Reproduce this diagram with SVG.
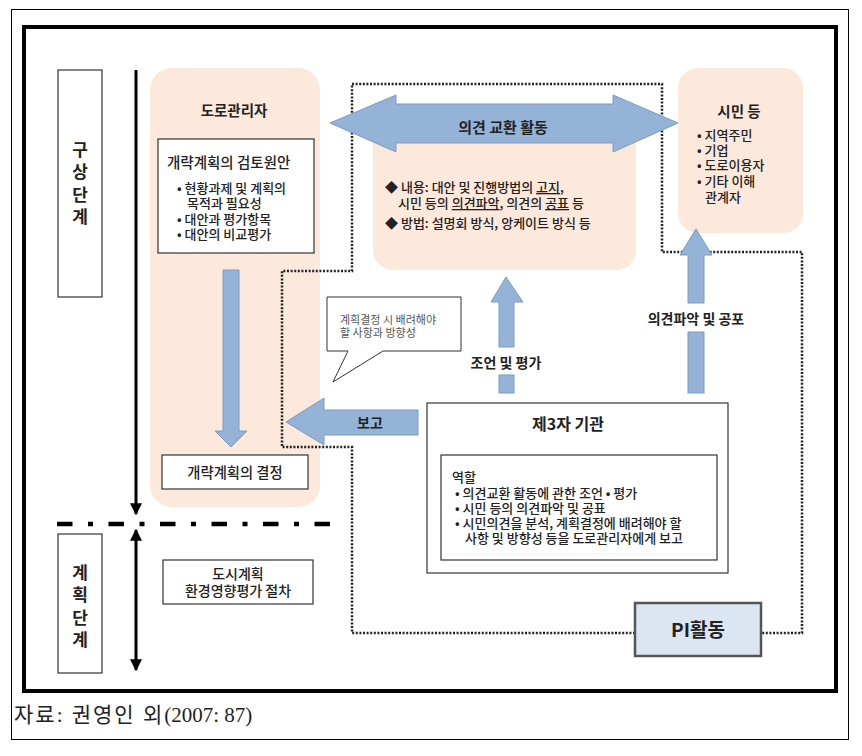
<svg xmlns="http://www.w3.org/2000/svg" width="862" height="756" viewBox="0 0 862 756">
<defs>
<style>
text{font-family:"Noto Sans CJK KR","Noto Sans",sans-serif;fill:#222;}
.t{font-size:14.5px;font-weight:bold;}
.s{font-size:13px;font-weight:500;}
.b{font-size:14px;font-weight:bold;}
.st{font-size:17px;font-weight:bold;writing-mode:vertical-rl;text-orientation:upright;letter-spacing:5.5px;}
.peach{fill:#fde9dc;stroke:none;}
.box{fill:#fff;stroke:#333;stroke-width:1.2;}
.arrow{fill:#95b3d7;stroke:#7a9cc8;stroke-width:1;}
.dot{fill:none;stroke:#222;stroke-width:2.5;stroke-dasharray:2 1.6;}
.tl{stroke:#000;stroke-width:3;fill:none;}
</style>
<marker id="ah" viewBox="0 0 10 10" refX="9" refY="5" markerWidth="4" markerHeight="4" orient="auto-start-reverse">
<path d="M0,0 L10,5 L0,10 z" fill="#000"/>
</marker>
</defs>
<rect x="0" y="0" width="862" height="756" fill="#fff"/>
<rect x="11.5" y="9.5" width="837" height="730" fill="none" stroke="#000" stroke-width="1"/>
<rect x="24" y="27" width="812" height="664" fill="none" stroke="#000" stroke-width="4"/>

<g id="stage-concept">
<rect x="58" y="70" width="44" height="227" fill="#fff" stroke="#333" stroke-width="1.2"/>
<text class="st" x="80" y="141">구상단계</text>
</g>
<g id="stage-plan">
<rect x="58" y="534" width="44" height="139" fill="#fff" stroke="#333" stroke-width="1.2"/>
<text class="st" x="80" y="564">계획단계</text>
</g>

<g id="timeline">
<line class="tl" x1="136" y1="70" x2="136" y2="514" marker-end="url(#ah)"/>
<line class="tl" x1="136" y1="530" x2="136" y2="670" marker-start="url(#ah)" marker-end="url(#ah)"/>
<line x1="57" y1="524" x2="330" y2="524" stroke="#000" stroke-width="4.5" stroke-dasharray="15.5 15.5 5 15.5"/>
</g>

<g id="road-manager">
<rect class="peach" x="150" y="68" width="170" height="439" rx="22"/>
<text class="t" x="234" y="116" text-anchor="middle">도로관리자</text>
</g>
<g id="draft-review">
<rect class="box" x="158" y="139" width="156" height="114"/>
<text x="167" y="168" style="font-size:14.5px;font-weight:500">개략계획의 검토원안</text>
<text class="s"><tspan x="177" y="193">• 현황과제 및 계획의</tspan><tspan x="187" dy="15">목적과 필요성</tspan><tspan x="177" dy="16">• 대안과 평가항목</tspan><tspan x="177" dy="15">• 대안의 비교평가</tspan></text>
</g>
<g id="plan-decision">
<rect class="box" x="162" y="455" width="146" height="34"/>
<text x="235" y="478" text-anchor="middle" style="font-size:14.3px;font-weight:500">개략계획의 결정</text>
</g>
<g id="urban-plan">
<rect class="box" x="163" y="560" width="150" height="44"/>
<text style="font-size:14px;font-weight:500" text-anchor="middle"><tspan x="238" y="579">도시계획</tspan><tspan x="238" dy="17">환경영향평가 절차</tspan></text>
</g>

<g id="exchange">
<rect class="peach" x="373" y="112" width="263" height="158" rx="20"/>
<text class="s"><tspan x="385" y="192">◆ 내용: 대안 및 진행방법의 </tspan><tspan text-decoration="underline">고지</tspan><tspan>,</tspan><tspan x="398" dy="16">시민 등의 </tspan><tspan text-decoration="underline">의견파악</tspan><tspan>, 의견의 </tspan><tspan text-decoration="underline">공표</tspan><tspan> 등</tspan><tspan x="385" dy="20">◆ 방법: 설명회 방식, 앙케이트 방식 등</tspan></text>
</g>

<g id="citizens">
<rect class="peach" x="678" y="68" width="125" height="165" rx="20"/>
<text class="t" x="739" y="117" text-anchor="middle">시민 등</text>
<text class="s"><tspan x="697" y="140">• 지역주민</tspan><tspan x="697" dy="15">• 기업</tspan><tspan x="697" dy="15">• 도로이용자</tspan><tspan x="697" dy="16">• 기타 이해</tspan><tspan x="705" dy="16">관계자</tspan></text>
</g>

<g id="third-party">
<rect class="box" x="427" y="403" width="301" height="170"/>
<text x="568" y="430" text-anchor="middle" style="font-size:16px;font-weight:bold">제3자 기관</text>
<rect class="box" x="441" y="455" width="276" height="105"/>
<text class="s"><tspan x="452" y="482">역할</tspan><tspan x="455" dy="16">• 의견교환 활동에 관한 조언 • 평가</tspan><tspan x="455" dy="15">• 시민 등의 의견파악 및 공표</tspan><tspan x="455" dy="15">• 시민의견을 분석, 계획결정에 배려해야 할</tspan><tspan x="465" dy="15">사항 및 방향성 등을 도로관리자에게 보고</tspan></text>
</g>

<g id="callout">
<path d="M327,297 H461 V351 H383 L333,382 L348,351 H327 Z" fill="#fff" stroke="#333" stroke-width="1"/>
<text style="font-size:11px;fill:#555"><tspan x="340" y="324">계획결정 시 배려해야</tspan><tspan x="340" dy="13">할 사항과 방향성</tspan></text>
</g>

<g id="connectors">
<path class="dot" d="M352,84 H662 V252 H802 V633 H761 M635,633 H352 V447 H282 V271 H352 V84"/>
<polygon class="arrow" points="330,123 396,95 396,104 613,104 613,95 678,123 613,152 613,143 396,143 396,152"/>
<text x="503" y="133" text-anchor="middle" style="font-size:15px;font-weight:bold">의견 교환 활동</text>
<polygon class="arrow" points="223,270 239,270 239,431 247,431 231,447 215,431 223,431"/>
<polygon class="arrow" points="286,422 324,398 324,410 418,410 418,435 324,435 324,445"/>
<text class="b" x="370" y="428" text-anchor="middle">보고</text>
<polygon class="arrow" points="506,277 523,302 514,302 514,347 499,347 499,302 491,302"/>
<rect class="arrow" x="499" y="375" width="15" height="18"/>
<text class="b" x="506" y="368" text-anchor="middle">조언 및 평가</text>
<polygon class="arrow" points="696,229 712,255 704,255 704,303 688,303 688,255 680,255"/>
<rect class="arrow" x="688" y="332" width="16" height="61"/>
<text class="b" x="696" y="324" text-anchor="middle">의견파악 및 공포</text>
</g>

<g id="pi">
<rect x="635" y="603" width="126" height="53" fill="#dce6f2" stroke="#555" stroke-width="2.5"/>
<text x="698" y="637" text-anchor="middle" style="font-size:19px;font-weight:bold">PI활동</text>
</g>

<text x="14" y="722" style="font-family:'Liberation Serif','Noto Sans CJK KR',serif;font-size:21px"><tspan letter-spacing="2">자료: 권영인 외</tspan>(2007: 87)</text>
</svg>
